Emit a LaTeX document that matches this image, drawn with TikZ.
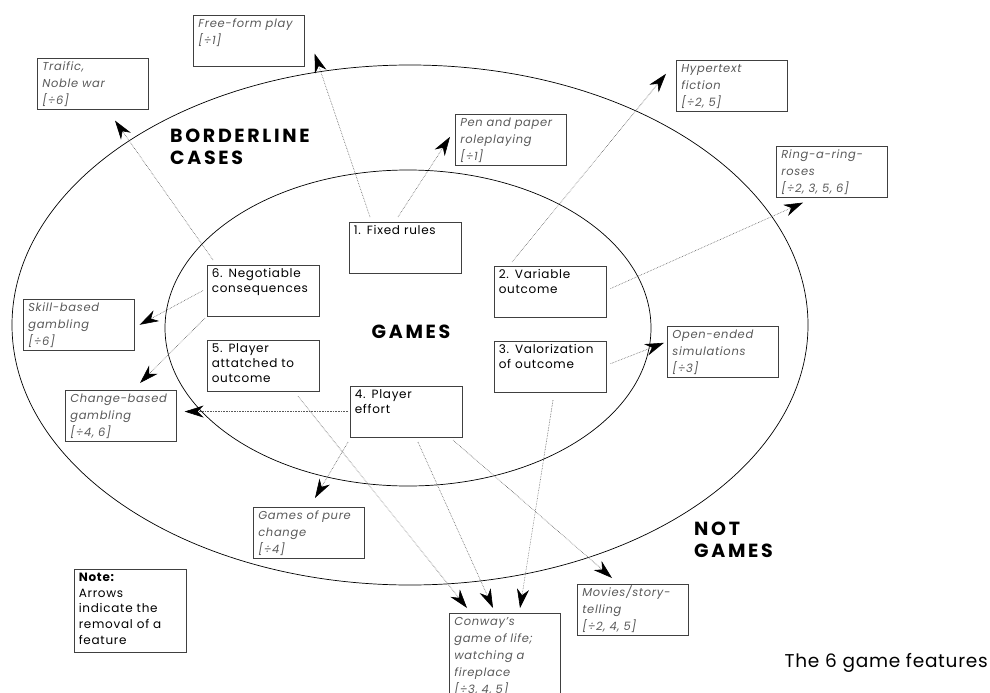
\documentclass[tikz,border=0pt]{standalone}
\usepackage{fontspec}
\setmainfont{Poppins}
\usepackage{tikz}
\usetikzlibrary{positioning,arrows.meta}
\definecolor{boxline}{gray}{0.25}
\definecolor{extext}{gray}{0.35}
\definecolor{dotline}{gray}{0.35}
\tikzstyle{feat}=[draw=boxline, line width=0.6pt, anchor=north west, text width=103pt, inner sep=4.5pt, align=left, text height=7.5pt, text depth=34pt, font=\fontsize{12}{15}\selectfont\addfontfeature{LetterSpace=6}]
\tikzstyle{ex}=[draw=boxline, line width=0.6pt, anchor=north west, text width=101pt, inner sep=5pt, align=left, text height=7pt, text depth=34pt, text=extext, font=\itshape\fontsize{11.5}{17}\selectfont\addfontfeature{LetterSpace=6}]
\tikzstyle{region}=[inner sep=0pt, align=left, font=\bfseries\fontsize{19}{22}\selectfont\addfontfeature{LetterSpace=14}]
\tikzstyle{rm}=[-{Stealth[length=19pt, width=12pt, inset=6pt, color=black, fill=black]}, densely dotted, draw=dotline, line width=0.6pt]

\begin{document}
\begin{tikzpicture}[x=1pt, y=-1pt]
	\clip (0,0) rectangle (990,693);
	% the two regions
	\draw[line width=0.7pt] (410,325) ellipse [x radius=398pt, y radius=260pt];
	\draw[line width=0.7pt] (408,328) ellipse [x radius=243pt, y radius=158pt];

	\node[region, anchor=north west] (border) at (170,129) {BORDERLINE\\CASES};
	\node[region] (games) at (411,332) {GAMES};
	\node[region, anchor=north west] (notgames) at (694,522) {NOT\\GAMES};
	\node[anchor=east, inner sep=0pt, font=\fontsize{18.5}{20}\selectfont\addfontfeature{LetterSpace=4}] (caption) at (988,663) {The 6 game features};

	% the 6 features
	\node[feat] (fixed) at (349,222) {1. Fixed rules};
	\node[feat] (variable) at (494,266) {2. Variable\\outcome};
	\node[feat] (valor) [below=24pt of variable] {3. Valorization\\of outcome};
	\node[feat] (effort) at (350,386) {4. Player\\effort};
	\node[feat] (negot) at (207,265) {6. Negotiable\\consequences};
	\node[feat] (attached) [below=24pt of negot] {5. Player\\attatched to\\outcome};

	% what is left when a feature goes
	\node[ex] (freeform) at (193,15) {Free-form play\\{}[÷1]};
	\node[ex] (traffic) at (37,58) {Traific,\\Noble war\\{}[÷6]};
	\node[ex] (penpaper) at (455,114) {Pen and paper\\roleplaying\\{}[÷1]};
	\node[ex] (hypertext) at (676,60) {Hypertext\\fiction\\{}[÷2, 5]};
	\node[ex] (ringroses) at (776,146) {Ring-a-ring-\\roses\\{}[÷2, 3, 5, 6]};
	\node[ex] (skillgamb) at (23,299) {Skill-based\\gambling\\{}[÷6]};
	\node[ex] (chancegamb) at (65,390) {Change-based\\gambling\\{}[÷4, 6]};
	\node[ex] (openended) at (667,326) {Open-ended\\simulations\\{}[÷3]};
	\node[ex] (purechance) at (253,507) {Games of pure\\change\\{}[÷4]};
	\node[ex, text depth=70pt] (conway) at (449,613) {Conway's\\game of life;\\watching a\\fireplace\\{}[÷3, 4, 5]};
	\node[ex] (movies) at (577,584) {Movies/story-\\telling\\{}[÷2, 4, 5]};

	\node[feat, text depth=66pt, font=\fontsize{12}{15.7}\selectfont\addfontfeature{LetterSpace=6}] (note) at (74,569) {\textbf{Note:}\\Arrows\\indicate the\\removal of a\\feature};

	\draw ([xshift=21pt,yshift=5pt]fixed.north west) edge[rm] ([xshift=10pt,yshift=13pt]freeform.south east);
	\draw ([xshift=49pt,yshift=5pt]fixed.north west) edge[rm] ([xshift=-5pt,yshift=3pt]penpaper.west);
	\draw ([xshift=18pt,yshift=4pt]variable.north west) edge[rm] ([xshift=-10pt,yshift=12pt]hypertext.west);
	\draw ([xshift=4pt,yshift=3pt]variable.east) edge[rm] ([xshift=27pt,yshift=-5pt]ringroses.south west);
	\draw ([xshift=4pt,yshift=3pt]valor.east) edge[rm] ([xshift=-3pt,yshift=9pt]openended.west);
	\draw ([xshift=59pt,yshift=-8pt]valor.south west) edge[rm] ([xshift=71pt,yshift=5pt]conway.north west);
	\draw ([xshift=68pt,yshift=-5pt]effort.south west) edge[rm] ([xshift=44pt,yshift=5pt]conway.north west);
	\draw ([xshift=103pt,yshift=-3pt]effort.south west) edge[rm] ([xshift=35pt,yshift=6pt]movies.north west);
	\draw ([xshift=-2pt,yshift=-5pt]effort.south west) edge[rm] ([xshift=62pt,yshift=9pt]purechance.north west);
	\draw ([xshift=-2pt]effort.west) edge[rm] ([xshift=8pt]chancegamb.east |- effort.west);
	\draw ([xshift=91pt,yshift=-5pt]attached.south west) edge[rm] ([xshift=18pt,yshift=5pt]conway.north west);
	\draw ([xshift=-4pt]negot.west) edge[rm] ([xshift=5pt]skillgamb.east);
	\draw ([xshift=-2pt,yshift=-2pt]negot.south west) edge[rm] ([xshift=75pt,yshift=7pt]chancegamb.north west);
	\draw ([xshift=6pt,yshift=5pt]negot.north west) edge[rm] ([xshift=78pt,yshift=-11pt]traffic.south west);
\end{tikzpicture}
\end{document}
